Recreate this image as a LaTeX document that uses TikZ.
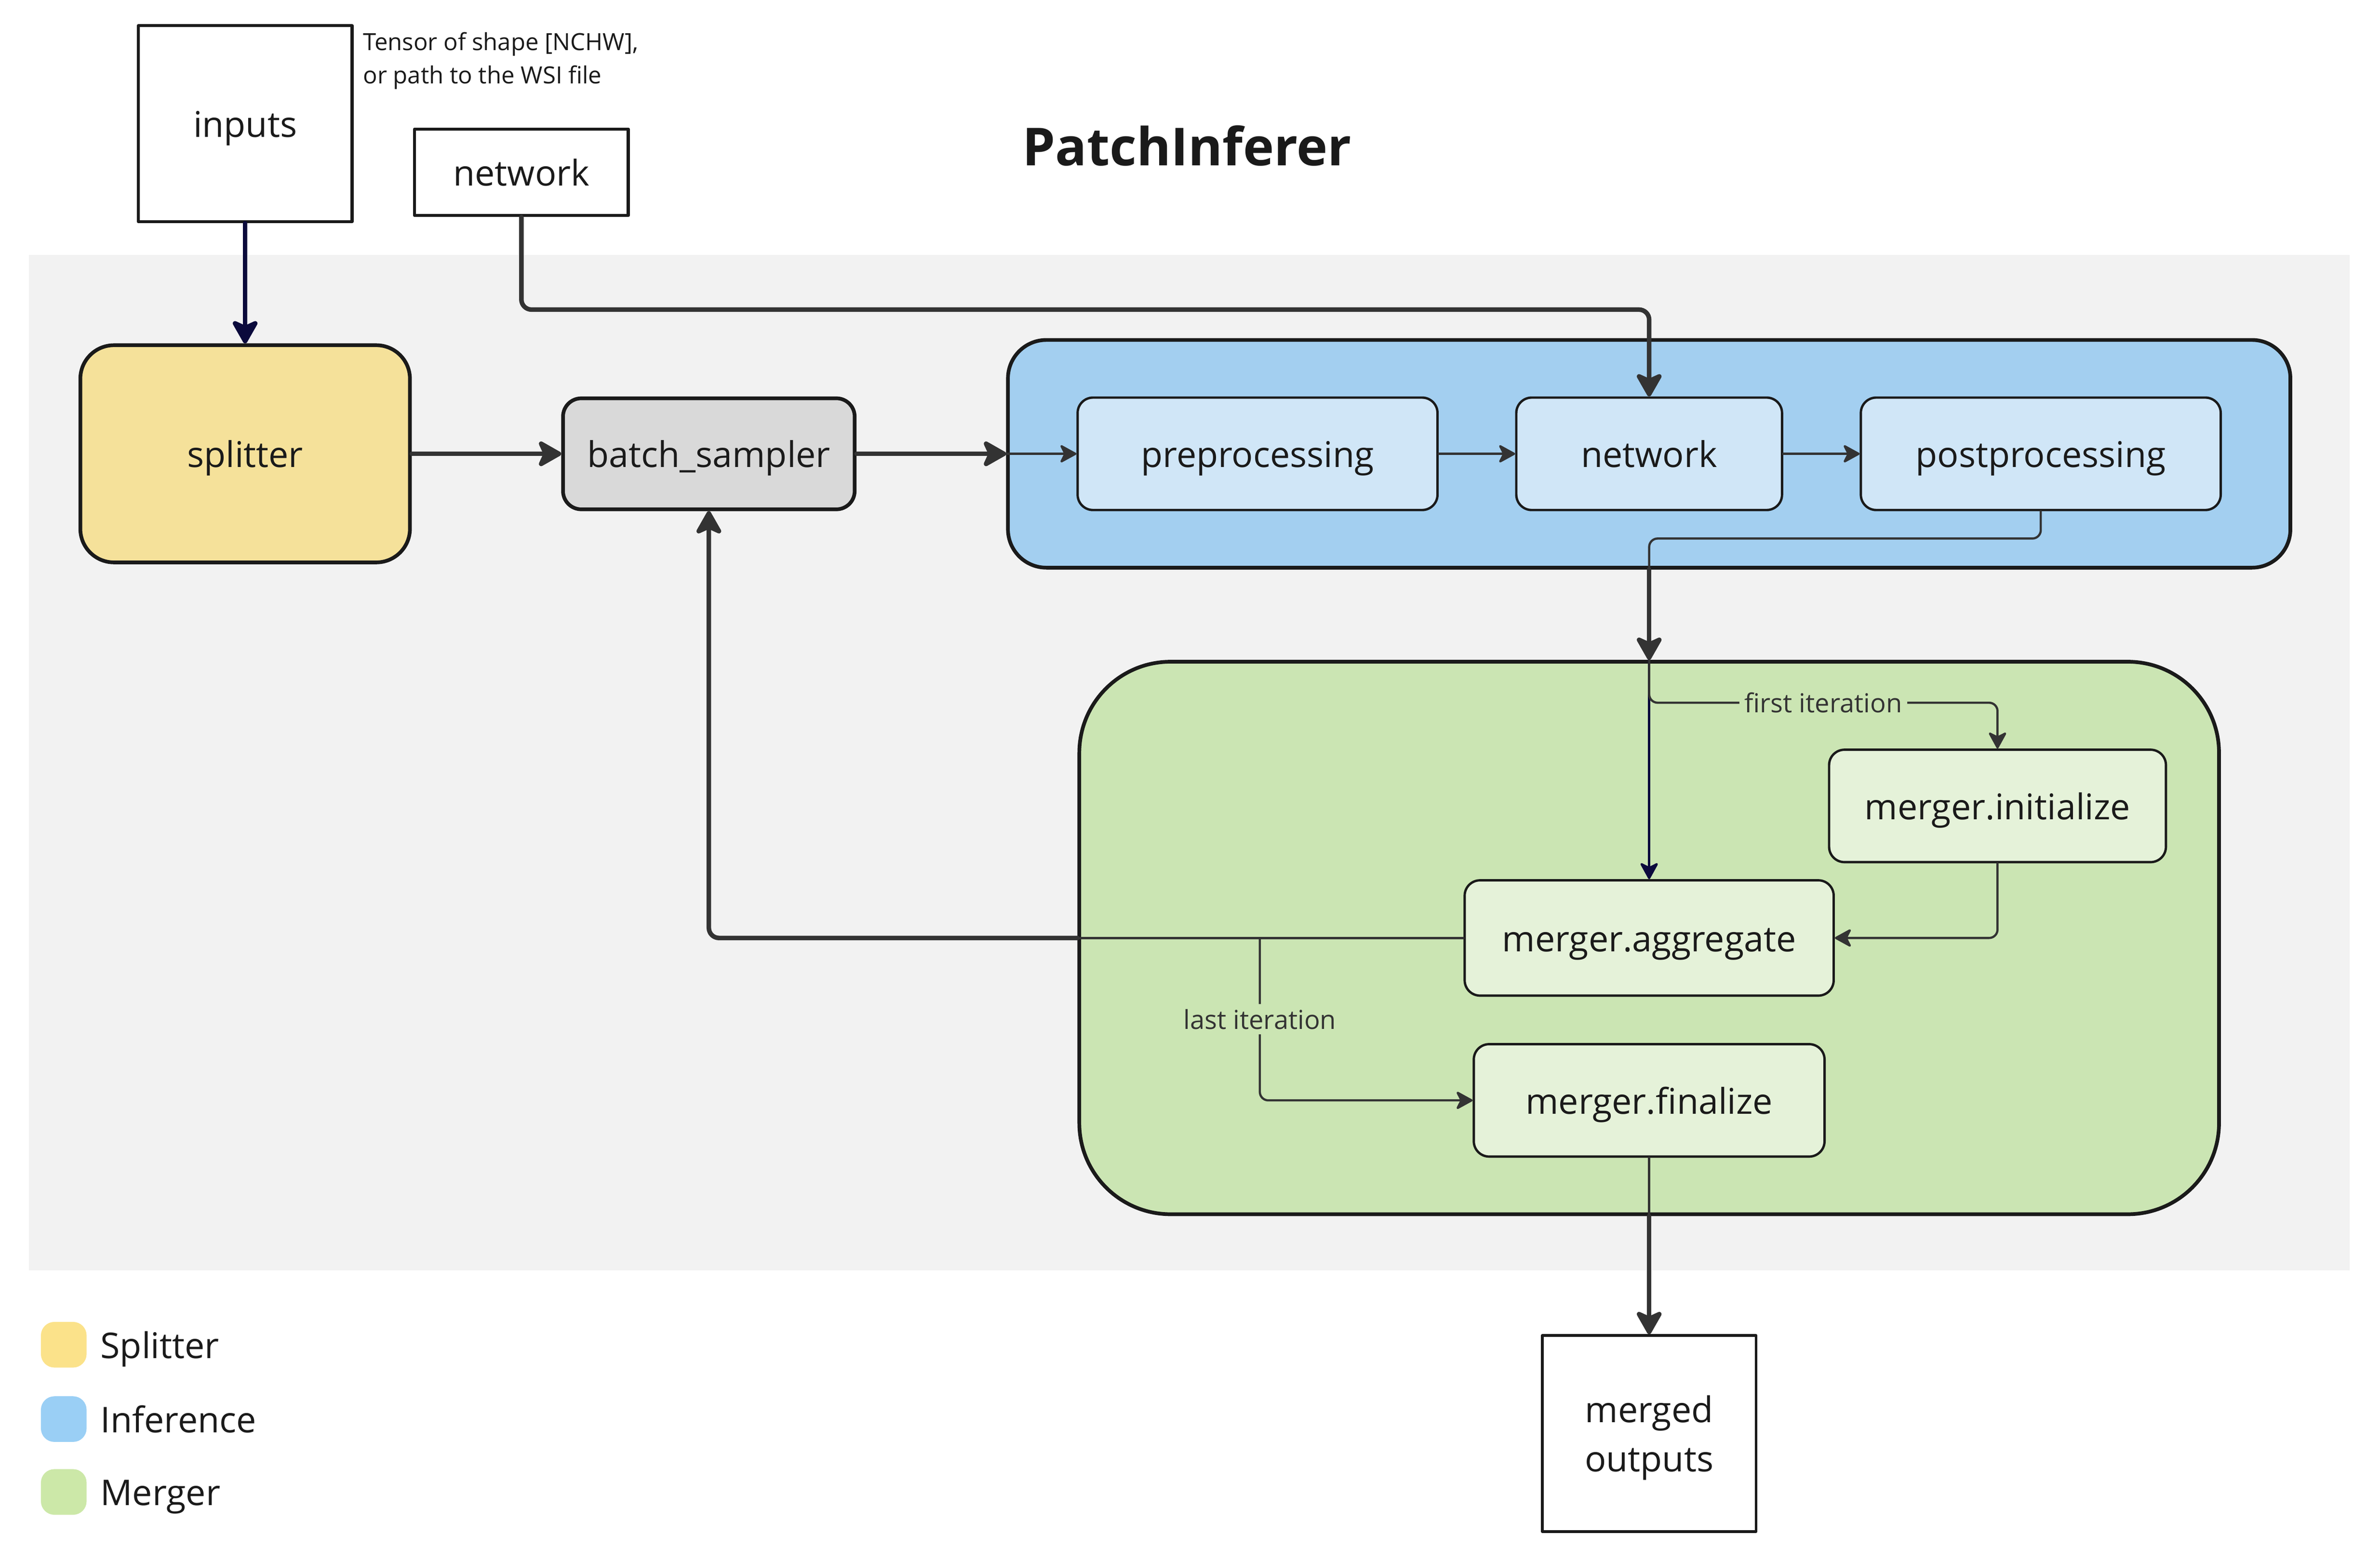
\documentclass[tikz,border=0pt]{standalone}
\usepackage{fontspec}
\setmainfont{Open Sans}
\usetikzlibrary{arrows.meta}
\definecolor{bggray}{HTML}{F2F2F2}
\definecolor{splityellow}{HTML}{F5E19A}
\definecolor{batchgray}{HTML}{D9D9D9}
\definecolor{infblue}{HTML}{A3CFF0}
\definecolor{innerblue}{HTML}{D0E6F7}
\definecolor{mergegreen}{HTML}{CBE5B3}
\definecolor{innergreen}{HTML}{E5F2D9}
\definecolor{legyellow}{HTML}{FBE28A}
\definecolor{legblue}{HTML}{9ACFF5}
\definecolor{leggreen}{HTML}{CCE8A8}
\definecolor{navy}{HTML}{0B0A3C}
\definecolor{linegray}{HTML}{333333}
\definecolor{txtblack}{HTML}{1A1A1A}
\newcommand{\mainfs}{\fontsize{21}{26}\selectfont}
\newcommand{\smallfs}{\fontsize{15.5}{19}\selectfont}
\newcommand{\notefs}{\fontsize{14}{19.8}\selectfont}
\newcommand{\titlefs}{\fontsize{31}{36}\selectfont\bfseries}
\tikzset{
	txt/.style={text height=18pt, text depth=2pt},
	plain/.style={draw=txtblack, line width=1.8pt, fill=white, align=center},
	group/.style={draw=txtblack, line width=2.2pt, inner sep=0pt},
	box/.style={txt, draw=txtblack, line width=2.2pt, rounded corners=3.8mm, align=center},
	inbox/.style={txt, draw=txtblack, line width=1.4pt, rounded corners=3.2mm, minimum height=23.4mm, align=center},
	legsq/.style={rounded corners=2.8mm, minimum size=9.5mm, inner sep=0pt},
	lbl/.style={font=\smallfs, text=linegray, fill=mergegreen, inner sep=3pt},
	thickarrow/.style={draw=linegray, line width=2.7pt, -{Stealth[length=16pt, width=18pt, inset=4pt, round]}},
	thinarrow/.style={draw=linegray, line width=1.3pt, -{Stealth[length=11pt, width=12pt, inset=3pt, round]}},
	thinline/.style={draw=linegray, line width=1.3pt}
}
\begin{document}
\begin{tikzpicture}[x=0.3159mm, y=-0.3159mm, line join=round, line cap=round, font=\mainfs, text=txtblack]
	\useasboundingbox (0,0) rectangle (1568,1028.5);
	\fill[bggray] (19,168) rectangle (1548,837); % vùng xám
	
	% khối lớn
	\node[group, fill=infblue, minimum width=266.9mm, minimum height=47.4mm, rounded corners=8mm] (inf) at (1086.5,299) {};
	\node[group, fill=mergegreen, minimum width=237.2mm, minimum height=115mm, rounded corners=19mm] (merger) at (1086.5,618) {};
	
	\node[plain, txt, minimum width=44.5mm, minimum height=40.8mm] (inputs) at (161.5,81.5) {inputs};
	\node[font=\notefs, anchor=west, align=left, inner sep=0pt] (tensor) at (239,40) {Tensor of shape [NCHW],\\or path to the WSI file};
	\node[plain, txt, minimum width=44.5mm, minimum height=18mm] (nettop) at (343.5,113.5) {network};
	\node[font=\titlefs] (title) at (782,96) {PatchInferer};
	
	\node[box, fill=splityellow, rounded corners=7mm, minimum width=68.6mm, minimum height=45.2mm] (split) at (161.5,299) {splitter};
	\node[box, fill=batchgray, minimum width=60.7mm, minimum height=23.1mm] (batch) at (467,299) {batch\_sampler};
	
	\node[inbox, fill=innerblue, minimum width=74.9mm] (pre) at (828.5,299) {preprocessing};
	\node[inbox, fill=innerblue, minimum width=55.3mm] (net) at (1086.5,299) {network};
	\node[inbox, fill=innerblue, minimum width=74.9mm] (post) at (1344.5,299) {postprocessing};
	
	\node[inbox, fill=innergreen, minimum width=70.1mm] (init) at (1316,531) {merger.initialize};
	\node[inbox, fill=innergreen, minimum width=76.8mm, minimum height=24mm] (agg) at (1086.5,618) {merger.aggregate};
	\node[inbox, fill=innergreen, minimum width=73mm] (fin) at (1086.5,725) {merger.finalize};
	
	\node[plain, line width=1.6pt, minimum width=44.5mm, minimum height=40.8mm, text depth=0pt, font={\fontsize{21}{29}\selectfont}] (out) at (1086.5,944.5) {merged\\outputs};
	
	% chú thích
	\node[legsq, fill=legyellow] (lsplit) at (42,886) {};
	\node[legsq, fill=legblue] (linf) at (42,935) {};
	\node[legsq, fill=leggreen] (lmerge) at (42,983) {};
	\node[txt, anchor=west, inner sep=0pt] at (66,886) {Splitter};
	\node[txt, anchor=west, inner sep=0pt] at (66,935) {Inference};
	\node[txt, anchor=west, inner sep=0pt] at (66,983) {Merger};
	
	% mũi tên
	\draw[thickarrow, draw=navy, -{Stealth[length=16pt, width=18pt, inset=4pt, round, fill=navy]}] (inputs.south) -- (split.north);
	\draw[thickarrow, rounded corners=6pt] (nettop.south) -- ++(0,61) -| (net.north);
	\draw[thickarrow] (split.east) -- (batch.west);
	\draw[thickarrow] (batch.east) -- (inf.west);
	\draw[thinarrow] (inf.west) -- (pre.west);
	\draw[thinarrow] (pre.east) -- (net.west);
	\draw[thinarrow] (net.east) -- (post.west);
	\draw[thinline, rounded corners=5pt] (post.south) -- ++(0,18) -| (inf.south);
	\draw[thickarrow] (inf.south) -- (merger.north);
	\draw[thinarrow, draw=navy] (merger.north) -- (agg.north);
	\coordinate (fibend) at (1316,463);
	\draw[thinarrow, rounded corners=5pt] (merger.north) |- node[pos=0.75, lbl] {first iteration} (fibend) -- (init.north);
	\draw[thinarrow, rounded corners=5pt] (init.south) |- (agg.east);
	\draw[thinline] (agg.west) -- (merger.west);
	\draw[thickarrow, rounded corners=6pt] (merger.west) -| (batch.south);
	\coordinate (libr) at (830,618);
	\draw[thinarrow, rounded corners=5pt] (libr) |- node[pos=0.25, lbl] {last iteration} (fin.west);
	\draw[thinline] (fin.south) -- (merger.south);
	\draw[thickarrow] (merger.south) -- (out.north);
	
\end{tikzpicture}
\end{document}
